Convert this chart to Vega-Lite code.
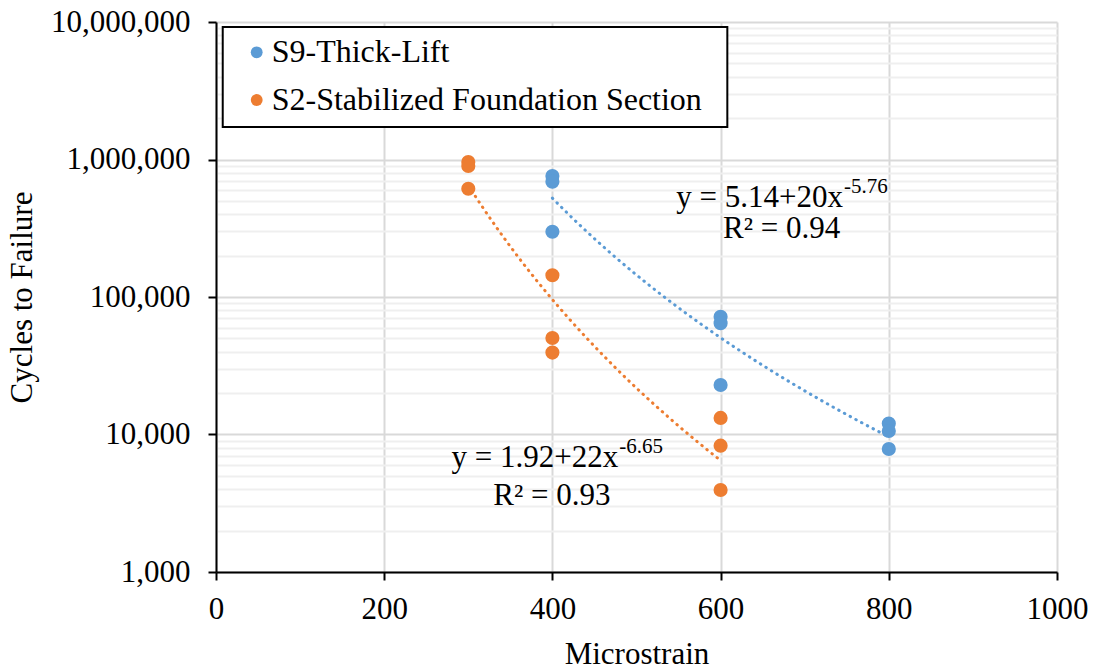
{
  "$schema": "https://vega.github.io/schema/vega-lite/v6.json",
  "width": 841,
  "height": 550,
  "autosize": {"type": "none"},
  "padding": {"left": 216, "top": 22, "right": 37, "bottom": 97},
  "background": "white",
  "config": {
    "view": {"stroke": null},
    "font": "Liberation Serif"
  },
  "datasets": {
    "points": [
      {"strain": 400, "cycles": 758000, "series": "S9-Thick-Lift"},
      {"strain": 400, "cycles": 690000, "series": "S9-Thick-Lift"},
      {"strain": 400, "cycles": 298000, "series": "S9-Thick-Lift"},
      {"strain": 600, "cycles": 71900, "series": "S9-Thick-Lift"},
      {"strain": 600, "cycles": 64400, "series": "S9-Thick-Lift"},
      {"strain": 600, "cycles": 22900, "series": "S9-Thick-Lift"},
      {"strain": 800, "cycles": 12000, "series": "S9-Thick-Lift"},
      {"strain": 800, "cycles": 10600, "series": "S9-Thick-Lift"},
      {"strain": 800, "cycles": 7850, "series": "S9-Thick-Lift"},
      {"strain": 300, "cycles": 959000, "series": "S2-Stabilized Foundation Section"},
      {"strain": 300, "cycles": 897000, "series": "S2-Stabilized Foundation Section"},
      {"strain": 300, "cycles": 613000, "series": "S2-Stabilized Foundation Section"},
      {"strain": 400, "cycles": 144000, "series": "S2-Stabilized Foundation Section"},
      {"strain": 400, "cycles": 50300, "series": "S2-Stabilized Foundation Section"},
      {"strain": 400, "cycles": 39400, "series": "S2-Stabilized Foundation Section"},
      {"strain": 600, "cycles": 13200, "series": "S2-Stabilized Foundation Section"},
      {"strain": 600, "cycles": 8300, "series": "S2-Stabilized Foundation Section"},
      {"strain": 600, "cycles": 3950, "series": "S2-Stabilized Foundation Section"}
    ],
    "equations": [
      {"strain": 745.5, "cycles": 453700, "main": "y = 5.14+20x", "sup": "-5.76"},
      {"strain": 478.4, "cycles": 5775, "main": "y = 1.92+22x", "sup": "-6.65"}
    ],
    "rsq": [
      {"strain": 602.9, "cycles": 270000, "label": "R² = 0.94"},
      {"strain": 329.7, "cycles": 3072, "label": "R² = 0.93"}
    ],
    "legendItems": [
      {"series": "S9-Thick-Lift"},
      {"series": "S2-Stabilized Foundation Section"}
    ]
  },
  "layer": [
    {
      "data": {"name": "points"},
      "transform": [{"regression": "cycles", "on": "strain", "method": "pow", "groupby": ["series"]}],
      "mark": {"type": "line", "strokeWidth": 3, "strokeDash": [0.5, 6], "strokeCap": "round", "clip": true},
      "encoding": {
        "x": {
          "field": "strain", "type": "quantitative",
          "scale": {"domain": [0, 1000], "nice": false, "zero": false},
          "axis": {
            "title": "Microstrain",
            "values": [0, 200, 400, 600, 800, 1000],
            "format": "d",
            "labelFont": "Liberation Serif", "labelFontSize": 31, "labelColor": "black",
            "labelPadding": 14, "labelFlush": false, "labelOverlap": false,
            "tickSize": 8, "tickColor": "black", "tickWidth": 2,
            "domainColor": "black", "domainWidth": 2,
            "grid": true, "gridColor": "#d9d9d9", "gridWidth": 2,
            "titleFont": "Liberation Serif", "titleFontSize": 31, "titleFontWeight": "normal", "titleColor": "black",
            "titlePadding": 15
          }
        },
        "y": {
          "field": "cycles", "type": "quantitative",
          "scale": {"type": "log", "domain": [1000, 10000000], "nice": false},
          "axis": {
            "title": "Cycles to Failure",
            "values": [1000, 2000, 3000, 4000, 5000, 6000, 7000, 8000, 9000, 10000, 20000, 30000, 40000, 50000, 60000, 70000, 80000, 90000, 100000, 200000, 300000, 400000, 500000, 600000, 700000, 800000, 900000, 1000000, 2000000, 3000000, 4000000, 5000000, 6000000, 7000000, 8000000, 9000000, 10000000],
            "labelExpr": "indexof([1000,10000,100000,1000000,10000000], datum.value) >= 0 ? format(datum.value, ',') : ''",
            "labelFont": "Liberation Serif", "labelFontSize": 31, "labelColor": "black",
            "labelPadding": 18, "labelOverlap": false, "labelFlush": false,
            "tickSize": 8, "tickWidth": 2,
            "tickColor": {"condition": {"test": "indexof([1000,10000,100000,1000000,10000000], datum.value) >= 0", "value": "black"}, "value": "transparent"},
            "domainColor": "black", "domainWidth": 2,
            "grid": true, "gridWidth": 2,
            "gridColor": {"condition": {"test": "indexof([1000,10000,100000,1000000,10000000], datum.value) >= 0", "value": "#d9d9d9"}, "value": "#efefef"},
            "titleFont": "Liberation Serif", "titleFontSize": 31, "titleFontWeight": "normal", "titleColor": "black",
            "titlePadding": 12
          }
        },
        "stroke": {"field": "series", "type": "nominal", "legend": null,
          "scale": {"domain": ["S9-Thick-Lift", "S2-Stabilized Foundation Section"], "range": ["#5B9BD5", "#ED7D31"]}}
      }
    },
    {
      "data": {"name": "points"},
      "mark": {"type": "circle", "size": 200, "opacity": 1},
      "encoding": {
        "x": {"field": "strain", "type": "quantitative"},
        "y": {"field": "cycles", "type": "quantitative"},
        "fill": {"field": "series", "type": "nominal", "legend": null,
          "scale": {"domain": ["S9-Thick-Lift", "S2-Stabilized Foundation Section"], "range": ["#5B9BD5", "#ED7D31"]}}
      }
    },
    {
      "data": {"name": "equations"},
      "mark": {"type": "text", "align": "right", "baseline": "alphabetic", "fontSize": 31, "font": "Liberation Serif", "color": "black"},
      "encoding": {
        "x": {"field": "strain", "type": "quantitative"},
        "y": {"field": "cycles", "type": "quantitative"},
        "text": {"field": "main"}
      }
    },
    {
      "data": {"name": "equations"},
      "mark": {"type": "text", "align": "left", "baseline": "alphabetic", "fontSize": 21, "dx": 1, "dy": -14, "font": "Liberation Serif", "color": "black"},
      "encoding": {
        "x": {"field": "strain", "type": "quantitative"},
        "y": {"field": "cycles", "type": "quantitative"},
        "text": {"field": "sup"}
      }
    },
    {
      "data": {"name": "rsq"},
      "mark": {"type": "text", "align": "left", "baseline": "alphabetic", "fontSize": 31, "font": "Liberation Serif", "color": "black"},
      "encoding": {
        "x": {"field": "strain", "type": "quantitative"},
        "y": {"field": "cycles", "type": "quantitative"},
        "text": {"field": "label"}
      }
    },
    {
      "data": {"values": [{}]},
      "mark": {"type": "rect", "fill": "white", "stroke": "black", "strokeWidth": 2},
      "encoding": {
        "x": {"datum": 8},
        "x2": {"datum": 608},
        "y": {"datum": 9200000},
        "y2": {"datum": 1723000}
      }
    },
    {
      "data": {"name": "legendItems"},
      "transform": [{"filter": "datum.series === 'S9-Thick-Lift'"}],
      "layer": [
        {
          "mark": {"type": "circle", "size": 140, "opacity": 1, "color": "#5B9BD5"},
          "encoding": {"x": {"datum": 48.4}, "y": {"datum": 6020000}}
        },
        {
          "mark": {"type": "text", "align": "left", "baseline": "middle", "fontSize": 32, "font": "Liberation Serif", "color": "black"},
          "encoding": {"x": {"datum": 66.2}, "y": {"datum": 6020000}, "text": {"field": "series"}}
        }
      ]
    },
    {
      "data": {"name": "legendItems"},
      "transform": [{"filter": "datum.series === 'S2-Stabilized Foundation Section'"}],
      "layer": [
        {
          "mark": {"type": "circle", "size": 140, "opacity": 1, "color": "#ED7D31"},
          "encoding": {"x": {"datum": 48.4}, "y": {"datum": 2708000}}
        },
        {
          "mark": {"type": "text", "align": "left", "baseline": "middle", "fontSize": 32, "font": "Liberation Serif", "color": "black"},
          "encoding": {"x": {"datum": 66.2}, "y": {"datum": 2708000}, "text": {"field": "series"}}
        }
      ]
    }
  ]
}
